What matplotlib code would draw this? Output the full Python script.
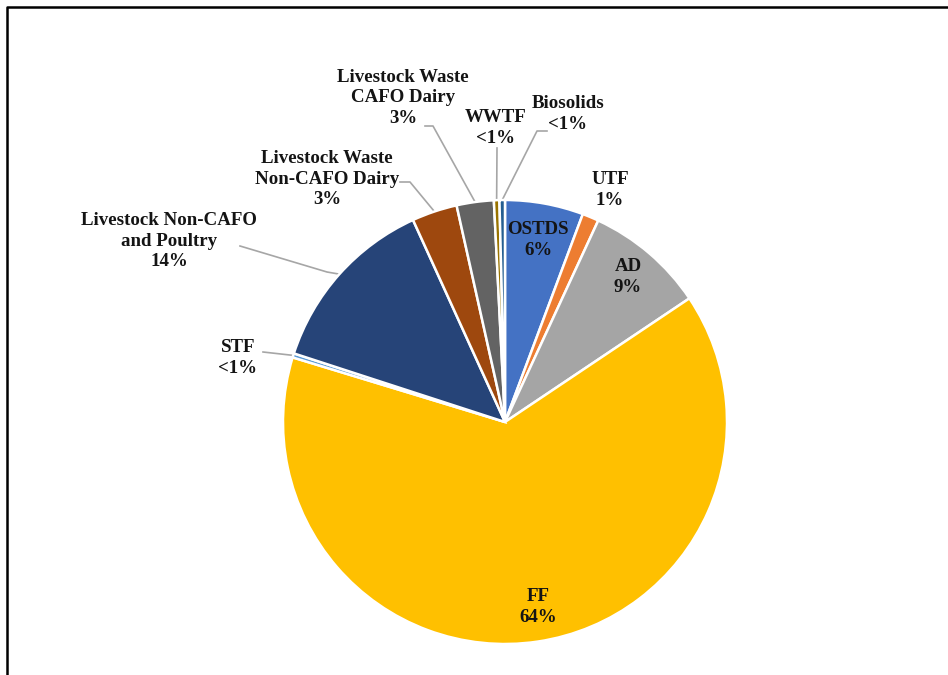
import numpy as np
import matplotlib
matplotlib.use('Agg')
import matplotlib.pyplot as plt
from matplotlib.lines import Line2D

W, H = 948, 675

# slices clockwise from 12 o'clock
sources = ["OSTDS", "UTF", "AD", "FF", "STF",
           "Livestock Non-CAFO\nand Poultry",
           "Livestock Waste\nNon-CAFO Dairy",
           "Livestock Waste\nCAFO Dairy",
           "WWTF", "Biosolids"]
shares = [5.7, 1.2, 8.7, 64.1, 0.3, 13.2, 3.3, 2.7, 0.4, 0.4]
pct_labels = ["6%", "1%", "9%", "64%", "<1%", "14%", "3%", "3%", "<1%", "<1%"]
colors = ["#4472C4", "#ED7D31", "#A5A5A5", "#FFC000", "#5B9BD5",
          "#264478", "#9E480E", "#636363", "#997300", "#255E91"]

# label anchor (pixel coords, y down); leader start or None for inside labels
label_pos = [(538, 240), (610, 190), (628, 277), (538, 607), (238, 358),
             (169, 241), (327, 179), (403, 98), (496, 128), (568, 114)]
leader_start = [None, None, None, None, [(263, 352)],
                [(240, 246), (327, 272)],
                [(400, 182), (410, 182)],
                [(425, 126), (433, 126)],
                [(497, 148)],
                [(547, 131), (537, 131)]]

CX, CY, R = 505, 422, 222


def py(y):
    return H - y


fig = plt.figure(figsize=(W / 100, H / 100), dpi=100)
ax = fig.add_axes([0, 0, 1, 1])
ax.set_xlim(0, W)
ax.set_ylim(0, H)
ax.axis('off')

wedges, _ = ax.pie(shares, colors=colors, startangle=90, counterclock=False,
                   center=(CX, py(CY)), radius=R,
                   wedgeprops=dict(edgecolor='white', linewidth=1.8))
ax.set_xlim(0, W)
ax.set_ylim(0, H)
ax.set_aspect('equal')

font = dict(family='Liberation Serif', fontweight='bold', fontsize=13.6,
            color='#141414', ha='center', va='center', linespacing=1.28)

for w, name, pct, pos, lead in zip(wedges, sources, pct_labels, label_pos, leader_start):
    ax.text(pos[0], py(pos[1]), f"{name}\n{pct}", **font)
    if lead:
        mid = np.deg2rad((w.theta1 + w.theta2) / 2)
        ex = CX + R * np.cos(mid)
        ey = py(CY) + R * np.sin(mid)
        xs = [p[0] for p in lead] + [ex]
        ys = [py(p[1]) for p in lead] + [ey]
        ax.plot(xs, ys, color='#A6A6A6', lw=1.2, zorder=0.5)

# outer frame
fig.add_artist(Line2D([7 / W, 7 / W, 1], [0, 1 - 7 / H, 1 - 7 / H],
                      transform=fig.transFigure, color='black', lw=1.8))

fig.savefig('out.png', dpi=100)
